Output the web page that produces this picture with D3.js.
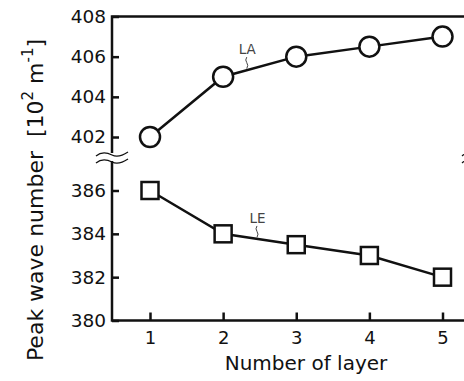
<!DOCTYPE html>
<html>
<head>
<meta charset="utf-8">
<script src="https://cdn.jsdelivr.net/npm/d3@7"></script>
<style>
  body { margin: 0; background: #fff; }
  svg { display: block; font-family: "DejaVu Sans", Verdana, sans-serif; }
</style>
</head>
<body>
<svg id="chart" width="464" height="381"></svg>
<script>
// data
var layers = [1, 2, 3, 4, 5];
var laValues = [402, 405, 406, 406.5, 407];
var leValues = [386, 384, 383.5, 383, 382];
var upperTicks = [402, 404, 406, 408];
var lowerTicks = [380, 382, 384, 386];

var svg = d3.select("#chart");

// plot frame (right edge sits just past the window, like the original crop)
var frameL = 112, frameR = 478, frameT = 16.5, frameB = 320.5;

var x = d3.scaleLinear().domain([1, 5]).range([150, 442.5]);
// broken y axis: two pieces
var yUp = d3.scaleLinear().domain([402, 408]).range([137, frameT]);
var yLow = d3.scaleLinear().domain([380, 386]).range([frameB, 190.5]);

var black = "#111";

// frame lines (left axis split at the break)
var frame = svg.append("g").attr("stroke", black).attr("stroke-width", 2.5).attr("fill", "none");
frame.append("path").attr("d", "M" + frameL + ",153V" + frameT + "H" + frameR);
frame.append("path").attr("d", "M" + frameL + ",161V" + frameB + "H" + frameR);
frame.append("path").attr("d", "M" + frameR + ",153V" + frameT);
frame.append("path").attr("d", "M" + frameR + ",161V" + frameB);

// break marks
function breakMark(cx) {
  [155, 162].forEach(function(yy) {
    svg.append("path")
      .attr("d", "M" + (cx - 16) + "," + (yy + 1) +
                 " C" + (cx - 10) + "," + (yy - 4) + " " + (cx - 4) + "," + (yy - 2) + " " + cx + "," + yy +
                 " S" + (cx + 10) + "," + (yy + 1) + " " + (cx + 16) + "," + (yy - 3))
      .attr("fill", "none").attr("stroke", black).attr("stroke-width", 1.3);
  });
}
breakMark(frameL);
breakMark(frameR);

// axes
function styleAxis(g) {
  g.select(".domain").remove();
  g.selectAll(".tick line").attr("stroke", black).attr("stroke-width", 2.5);
  g.selectAll(".tick text").attr("fill", black).style("font-family", "DejaVu Sans");
}

svg.append("g").attr("transform", "translate(" + frameL + ",0)")
  .call(d3.axisLeft(yUp).tickValues(upperTicks).tickFormat(d3.format("d"))
    .tickSizeInner(-7).tickSizeOuter(0).tickPadding(6))
  .attr("font-size", 18.5)
  .call(styleAxis);

svg.append("g").attr("transform", "translate(" + frameL + ",0)")
  .call(d3.axisLeft(yLow).tickValues(lowerTicks).tickFormat(d3.format("d"))
    .tickSizeInner(-7).tickSizeOuter(0).tickPadding(6))
  .attr("font-size", 18.5)
  .call(styleAxis);

svg.append("g").attr("transform", "translate(0," + frameB + ")")
  .call(d3.axisBottom(x).tickValues(layers).tickFormat(d3.format("d"))
    .tickSizeInner(-8).tickSizeOuter(0).tickPadding(11))
  .attr("font-size", 18)
  .call(styleAxis);

// axis titles
svg.append("text")
  .attr("x", 306).attr("y", 370)
  .attr("text-anchor", "middle").attr("font-size", 20).attr("fill", black)
  .text("Number of layer");

var yt = svg.append("text")
  .attr("transform", "translate(43,200) rotate(-90)")
  .attr("text-anchor", "middle").attr("font-size", 22).attr("fill", black)
  .style("white-space", "pre");
yt.append("tspan").text("Peak wave number  [10");
yt.append("tspan").attr("font-size", 15).attr("dy", -10).text("2");
yt.append("tspan").attr("dy", 10).text(" m");
yt.append("tspan").attr("font-size", 15).attr("dy", -10).text("-1");
yt.append("tspan").attr("dy", 10).text("]");

// series
var lineUp = d3.line().x(function(d, i) { return x(layers[i]); }).y(function(d) { return yUp(d); });
var lineLow = d3.line().x(function(d, i) { return x(layers[i]); }).y(function(d) { return yLow(d); });

svg.append("path").datum(laValues).attr("d", lineUp)
  .attr("fill", "none").attr("stroke", black).attr("stroke-width", 2.5);
svg.append("path").datum(leValues).attr("d", lineLow)
  .attr("fill", "none").attr("stroke", black).attr("stroke-width", 2.5);

svg.selectAll("circle.la").data(laValues).enter().append("circle")
  .attr("class", "la")
  .attr("cx", function(d, i) { return x(layers[i]); })
  .attr("cy", function(d) { return yUp(d); })
  .attr("r", 10)
  .attr("fill", "#fff").attr("stroke", black).attr("stroke-width", 2.5);

var sq = 17;
svg.selectAll("rect.le").data(leValues).enter().append("rect")
  .attr("class", "le")
  .attr("x", function(d, i) { return x(layers[i]) - sq / 2; })
  .attr("y", function(d) { return yLow(d) - sq / 2; })
  .attr("width", sq).attr("height", sq)
  .attr("fill", "#fff").attr("stroke", black).attr("stroke-width", 2.5);

// series labels with small squiggle leaders
function seriesLabel(txt, xv, yEnd, yScale) {
  var px = x(xv);
  var py = yScale(yEnd);
  svg.append("path")
    .attr("d", "M" + (px - 0.5) + "," + (py - 13) + " q-2,3 0,5.5 t0,6")
    .attr("fill", "none").attr("stroke", "#444").attr("stroke-width", 1);
  svg.append("text")
    .attr("x", px).attr("y", py - 16)
    .attr("text-anchor", "middle").attr("font-size", 13.5).attr("fill", "#444")
    .text(txt);
}
// labels sit on the segment between layer 2 and 3
seriesLabel("LA", 2.33, laValues[1] + (laValues[2] - laValues[1]) * 0.33, yUp);
seriesLabel("LE", 2.47, leValues[1] + (leValues[2] - leValues[1]) * 0.47, yLow);
</script>
</body>
</html>
